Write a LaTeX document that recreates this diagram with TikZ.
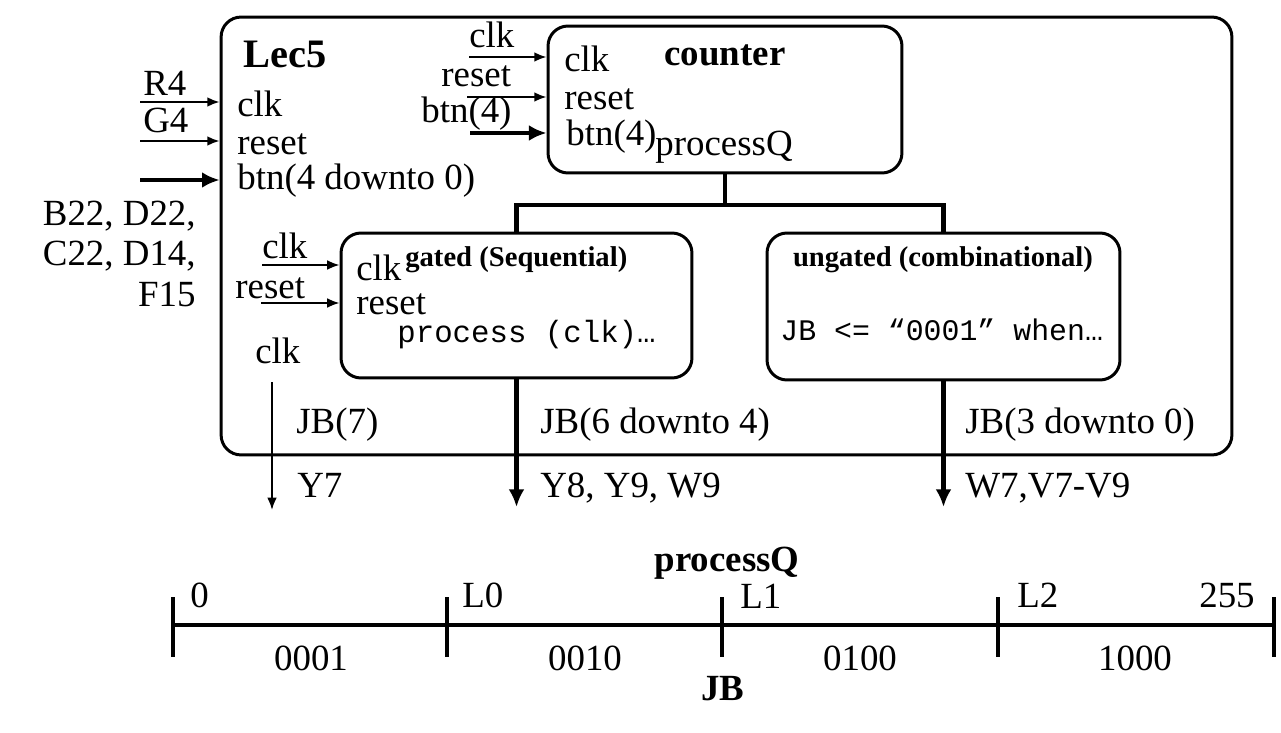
\documentclass[tikz,border=0pt]{standalone}
\usepackage{fontspec}
\setmainfont{Liberation Serif}
\setmonofont{Liberation Mono}
\usetikzlibrary{arrows.meta}
\tikzset{
  blk/.style={draw,line width=1.7pt,rounded corners=0.4cm,inner sep=0},
  txt/.style={anchor=base west,inner sep=0},
  ctr/.style={anchor=base,inner sep=0},
  hdr/.style={anchor=base,inner sep=0,font=\fontsize{16.3}{18}\selectfont\bfseries},
  code/.style={anchor=base west,inner sep=0,font=\fontsize{17}{20}\selectfont\ttfamily},
  sig/.style={-{Latex[length=7pt,width=5.5pt]},line width=1.1pt},
  bus/.style={-{Latex[length=10pt,width=9pt]},line width=2.8pt},
  wire/.style={line width=2.8pt},
}
\begin{document}
\begin{tikzpicture}[x=0.02cm,y=-0.02cm,font=\fontsize{21}{24}\selectfont]
\useasboundingbox (0,0) rectangle (1281,733);

\node[blk,minimum width=20.22cm,minimum height=8.76cm] (lec5) at (726.5,236) {};
\node[blk,minimum width=7.08cm,minimum height=2.94cm] (counter) at (725,99.5) {};
\node[blk,minimum width=7.02cm,minimum height=2.9cm] (gated) at (516.5,305.5) {};
\node[blk,minimum width=7.06cm,minimum height=2.94cm] (ungated) at (943.5,306.5) {};

% top level ports
\node[txt,font=\fontsize{23}{26}\selectfont\bfseries] (title) at (243,68) {Lec5};
\node[txt] (pclk) at (237,117) {clk};
\node[txt] (preset) at (237,155) {reset};
\node[txt] (pbtn) at (237,190) {btn(4 downto 0)};
\node[txt] (r4) at (143,96) {R4};
\node[txt] (g4) at (143,133) {G4};
\coordinate (r4in) at (140,102);
\coordinate (g4in) at (140,141);
\coordinate (btnin) at (140,180);
\draw[sig] (r4in) -- (r4in -| lec5.west);
\draw[sig] (g4in) -- (g4in -| lec5.west);
\draw[bus] (btnin) -- (btnin -| lec5.west);
\node[anchor=base east,inner sep=0] (pins1) at (196,226) {B22, D22,};
\node[anchor=base east,inner sep=0] (pins2) at (196,266) {C22, D14,};
\node[anchor=base east,inner sep=0] (pins3) at (196,306) {F15};

% counter
\node[txt] (cclk) at (564,72) {clk};
\node[txt] (creset) at (564,110) {reset};
\node[txt] (cbtn) at (566,146) {btn(4)};
\node[txt] (cq) at (655,156) {processQ};
\node[ctr,font=\fontsize{21}{24}\selectfont\bfseries] (cname) at (725,66) {counter};
\node[txt] (aclk) at (469,48) {clk};
\node[txt] (areset) at (441,87) {reset};
\node[txt] (abtn) at (421,123) {btn(4)};
\coordinate (aclkin) at (469,57);
\coordinate (aresetin) at (467,97);
\coordinate (abtnin) at (470,133);
\draw[sig] (aclkin) -- (aclkin -| counter.west);
\draw[sig] (aresetin) -- (aresetin -| counter.west);
\draw[bus] (abtnin) -- (abtnin -| counter.west);

\coordinate (split) at (725,205);
\draw[wire] (counter.south) -- (split);
\draw[wire] (gated.north) |- (split) -| (ungated.north);

% gated
\node[txt] (gclk) at (356,280) {clk};
\node[txt] (greset) at (356,315) {reset};
\node[hdr,anchor=base west] (gname) at (405,267) {gated (Sequential)};
\node[code,font=\fontsize{17.5}{20}\selectfont\ttfamily] (gcode) at (397,342) {process (clk)…};
\node[txt] (bclk) at (262,258) {clk};
\node[txt] (breset) at (235,298) {reset};
\coordinate (bclkin) at (262,265);
\coordinate (bresetin) at (261,303);
\draw[sig] (bclkin) -- (bclkin -| gated.west);
\draw[sig] (bresetin) -- (bresetin -| gated.west);

% ungated
\node[hdr] (uname) at (943,267) {ungated (combinational)};
\node[code] (ucode) at (780,340) {JB <= “0001” when…};

% outputs
\node[txt] (oclk) at (255,363) {clk};
\coordinate (clkfrom) at (272,382);
\coordinate (y7) at (272,510);
\draw[sig] (clkfrom) -- (y7);
\node[txt] (jb7) at (296,433) {JB(7)};
\node[txt] (py7) at (297,497) {Y7};
\coordinate (gout) at (518,507);
\draw[bus] (gated.south) -- (gated.south |- gout);
\node[txt] (jb64) at (540,433) {JB(6 downto 4)};
\node[txt] (py8) at (540,497) {Y8, Y9, W9};
\coordinate (uout) at (942,507);
\draw[bus] (ungated.south) -- (ungated.south |- uout);
\node[txt] (jb30) at (965,433) {JB(3 downto 0)};
\node[txt] (pw7) at (965,497) {W7,V7-V9};

% processQ range
\draw[wire] (173,625) -- (1274,625);
\foreach \x in {173,447,722,998,1274}
  \draw[wire] (\x,597) -- (\x,657);
\node[txt] (t0) at (190,607) {0};
\node[txt] (tl0) at (462,607) {L0};
\node[txt] (tl1) at (740,608) {L1};
\node[txt] (tl2) at (1017,607) {L2};
\node[anchor=base east,inner sep=0] (t255) at (1255,607) {255};
\node[ctr] (v1) at (311,670) {0001};
\node[ctr] (v2) at (585,670) {0010};
\node[ctr] (v3) at (860,670) {0100};
\node[ctr] (v4) at (1135,670) {1000};
\node[ctr,font=\fontsize{21}{24}\selectfont\bfseries] (qlabel) at (727,571) {processQ};
\node[ctr,font=\fontsize{21}{24}\selectfont\bfseries] (jblabel) at (723,700) {JB};
\end{tikzpicture}
\end{document}
